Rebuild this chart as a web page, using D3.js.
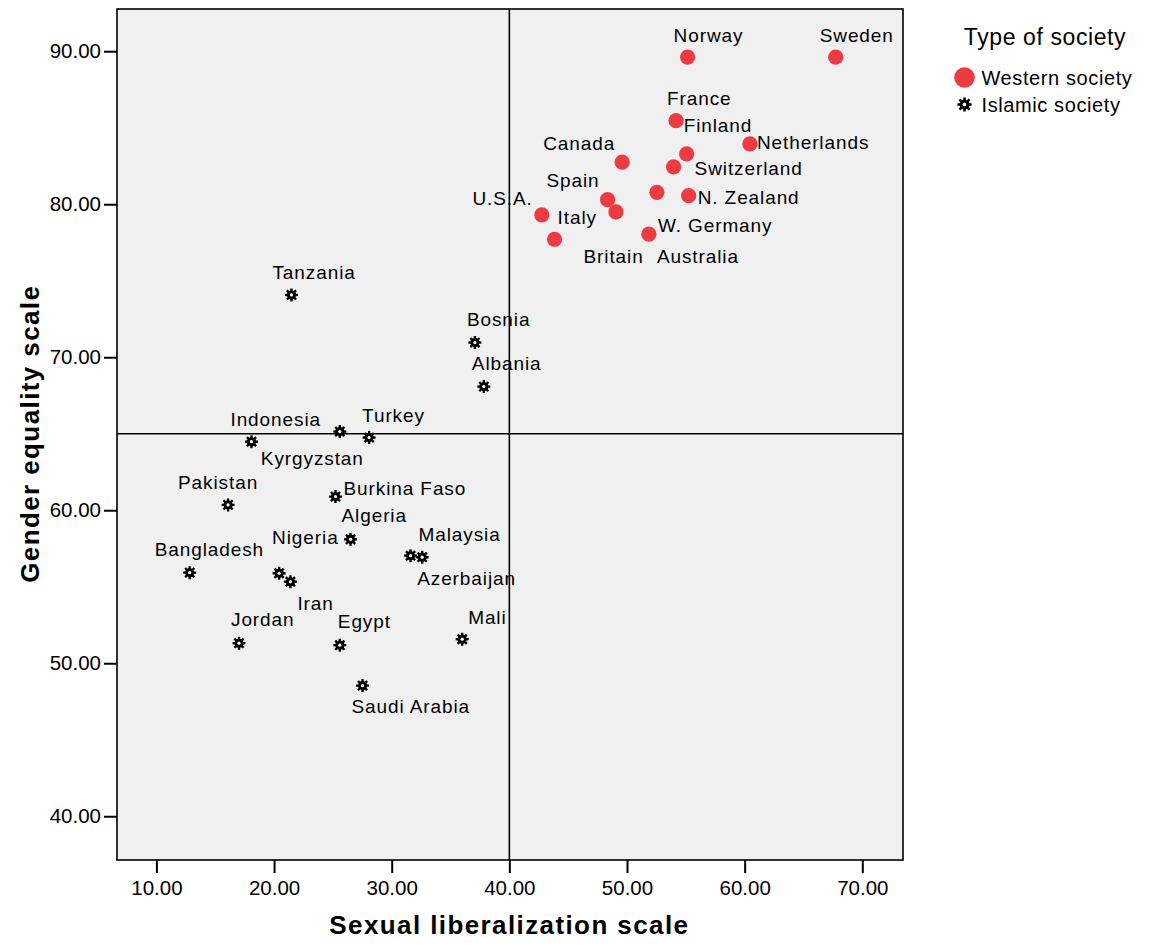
<!DOCTYPE html>
<html>
<head>
<meta charset="utf-8">
<script src="https://cdn.jsdelivr.net/npm/d3@7"></script>
<style>
  body { margin: 0; background: #fff; }
  text { font-family: "Liberation Sans", Arial, sans-serif; fill: #000; }
</style>
</head>
<body>
<div id="canvas"></div>
<script>
// Western societies
const westNames = ["Norway", "Sweden", "France", "Finland", "Netherlands", "Switzerland", "Canada",
  "W. Germany", "N. Zealand", "Spain", "Italy", "U.S.A.", "Britain", "Australia"];
const westSexLib = [55.15, 67.74, 54.17, 55.07, 60.45, 53.96, 49.59, 52.54, 55.24, 48.35, 49.06, 42.76, 43.84, 51.86];
const westGender = [89.61, 89.61, 85.46, 83.29, 83.94, 82.44, 82.75, 80.78, 80.56, 80.30, 79.50, 79.30, 77.71, 78.04];

// Islamic societies
const islamNames = ["Tanzania", "Bosnia", "Albania", "Indonesia", "Kyrgyzstan", "Turkey", "Pakistan",
  "Burkina Faso", "Algeria", "Bangladesh", "Nigeria", "Iran", "Malaysia", "Azerbaijan", "Jordan",
  "Egypt", "Mali", "Saudi Arabia"];
const islamSexLib = [21.48, 37.07, 37.83, 18.08, 25.59, 28.08, 16.09, 25.22, 26.50, 12.83, 20.43, 21.39,
  31.60, 32.59, 17.02, 25.59, 35.99, 27.52];
const islamGender = [74.07, 70.96, 68.08, 64.48, 65.14, 64.75, 60.35, 60.89, 58.10, 55.92, 55.88, 55.33,
  57.03, 56.93, 51.31, 51.18, 51.57, 48.54];

const xTicks = [10, 20, 30, 40, 50, 60, 70];
const yTicks = [40, 50, 60, 70, 80, 90];
const refX = 40;
const refY = 65;

// label placement next to each marker: [dx, dy, anchor]
const labelPos = {
  "Norway": [-14, -22], "Sweden": [-16, -22], "France": [-9, -23], "Finland": [-3, -29],
  "Netherlands": [7, -2], "Switzerland": [21, 1], "Canada": [-7, -19, "end"],
  "W. Germany": [1, 33], "N. Zealand": [9, 1], "Spain": [-8, -19, "end"], "Italy": [-19, 5, "end"],
  "U.S.A.": [-9, -17, "end"], "Britain": [29, 17], "Australia": [8, 22],
  "Tanzania": [-19, -23], "Bosnia": [-8, -23], "Albania": [-12, -23], "Indonesia": [-21, -23],
  "Kyrgyzstan": [-79, 27], "Turkey": [-7, -22], "Pakistan": [-50, -23], "Burkina Faso": [8, -8],
  "Algeria": [-9, -24], "Bangladesh": [-35, -24], "Nigeria": [-7, -36], "Iran": [7, 21],
  "Malaysia": [8, -22], "Azerbaijan": [-5, 21], "Jordan": [-8, -24], "Egypt": [-2, -24],
  "Mali": [6, -22], "Saudi Arabia": [-11, 21]
};

const red = "#EE3A42";

const width = 1151;
const height = 951;
const margin = { top: 9, left: 117, bottom: 91, right: 248 };
const iwidth = width - margin.left - margin.right;
const iheight = height - margin.top - margin.bottom;

const svg = d3.select("#canvas").append("svg")
  .attr("width", width)
  .attr("height", height);

const g = svg.append("g")
  .attr("transform", `translate(${margin.left},${margin.top})`);

const x = d3.scaleLinear().domain([6.65, 73.46]).range([0, iwidth]);
const y = d3.scaleLinear().domain([37.14, 92.76]).range([iheight, 0]);

g.append("rect")
  .attr("width", iwidth)
  .attr("height", iheight)
  .attr("fill", "#f0f0f0");

// reference lines
g.append("line")
  .attr("x1", x(refX)).attr("x2", x(refX))
  .attr("y1", 0).attr("y2", iheight)
  .attr("stroke", "#000").attr("stroke-width", 1.6);
g.append("line")
  .attr("x1", 0).attr("x2", iwidth)
  .attr("y1", y(refY)).attr("y2", y(refY))
  .attr("stroke", "#000").attr("stroke-width", 1.6);

// gear-like marker used by SPSS for the second group
function gearPath(R, r) {
  const pts = [];
  const rad = (deg) => (deg * Math.PI) / 180;
  for (let i = 0; i < 8; i++) {
    const a = i * 45 - 90;
    [[r, a - 15], [R, a - 10], [R, a + 10], [r, a + 15]].forEach(([k, t]) => {
      pts.push([Math.cos(rad(t)) * k, Math.sin(rad(t)) * k]);
    });
  }
  return "M" + pts.map((p) => p.map((v) => v.toFixed(2)).join(",")).join("L") + "Z";
}

const west = westNames.map((n, i) => ({ name: n, sx: westSexLib[i], ge: westGender[i] }));
const islam = islamNames.map((n, i) => ({ name: n, sx: islamSexLib[i], ge: islamGender[i] }));

g.selectAll("circle.west").data(west).enter().append("circle")
  .attr("class", "west")
  .attr("cx", (d) => x(d.sx))
  .attr("cy", (d) => y(d.ge))
  .attr("r", 7.6)
  .attr("fill", red);

const stars = g.selectAll("g.islam").data(islam).enter().append("g")
  .attr("class", "islam")
  .attr("transform", (d) => `translate(${x(d.sx)},${y(d.ge)})`);
stars.append("path").attr("d", gearPath(6.6, 4.6)).attr("fill", "#000");
stars.append("circle").attr("r", 1.6).attr("fill", "#fff");

g.selectAll("text.lbl").data(west.concat(islam)).enter().append("text")
  .attr("class", "lbl")
  .attr("x", (d) => x(d.sx) + labelPos[d.name][0])
  .attr("y", (d) => y(d.ge) + labelPos[d.name][1])
  .attr("dy", "0.36em")
  .attr("text-anchor", (d) => labelPos[d.name][2] || "start")
  .style("font-size", "19px")
  .style("letter-spacing", "0.9px")
  .text((d) => d.name);

// border
g.append("rect")
  .attr("width", iwidth)
  .attr("height", iheight)
  .attr("fill", "none")
  .attr("stroke", "#000")
  .attr("stroke-width", 1.6);

const fmt = d3.format(".2f");

const xAxis = g.append("g")
  .attr("transform", `translate(0,${iheight})`)
  .call(d3.axisBottom(x).tickValues(xTicks).tickFormat(fmt).tickSize(13).tickPadding(7));
const yAxis = g.append("g")
  .call(d3.axisLeft(y).tickValues(yTicks).tickFormat(fmt).tickSize(13).tickPadding(3));

[xAxis, yAxis].forEach((a) => {
  a.select(".domain").remove();
  a.selectAll(".tick line").attr("stroke", "#000").attr("stroke-width", 2);
  a.selectAll(".tick text")
    .attr("fill", "#000")
    .style("font-family", "'Liberation Sans', Arial, sans-serif")
    .style("font-size", "20.5px");
});

// axis titles
svg.append("text")
  .attr("x", margin.left + x(refX))
  .attr("y", 934)
  .attr("text-anchor", "middle")
  .style("font-size", "26px")
  .style("font-weight", "bold")
  .style("letter-spacing", "1.4px")
  .text("Sexual liberalization scale");

svg.append("text")
  .attr("transform", `translate(39,${margin.top + y(refY)}) rotate(-90)`)
  .attr("text-anchor", "middle")
  .style("font-size", "26px")
  .style("font-weight", "bold")
  .style("letter-spacing", "1.4px")
  .text("Gender equality scale");

// legend
const legend = svg.append("g");
legend.append("text")
  .attr("x", 1045).attr("y", 45)
  .attr("text-anchor", "middle")
  .style("font-size", "23px")
  .style("letter-spacing", "0.6px")
  .text("Type of society");
legend.append("circle")
  .attr("cx", 964.5).attr("cy", 77.5).attr("r", 10.3)
  .attr("fill", red);
legend.append("text")
  .attr("x", 981.5).attr("y", 78).attr("dy", "0.36em")
  .style("font-size", "20px")
  .style("letter-spacing", "0.6px")
  .text("Western society");
const ls = legend.append("g").attr("transform", "translate(964.5,104.5)");
ls.append("path").attr("d", gearPath(7.2, 5)).attr("fill", "#000");
ls.append("circle").attr("r", 1.8).attr("fill", "#fff");
legend.append("text")
  .attr("x", 981.5).attr("y", 105).attr("dy", "0.36em")
  .style("font-size", "20px")
  .style("letter-spacing", "0.6px")
  .text("Islamic society");
</script>
</body>
</html>
